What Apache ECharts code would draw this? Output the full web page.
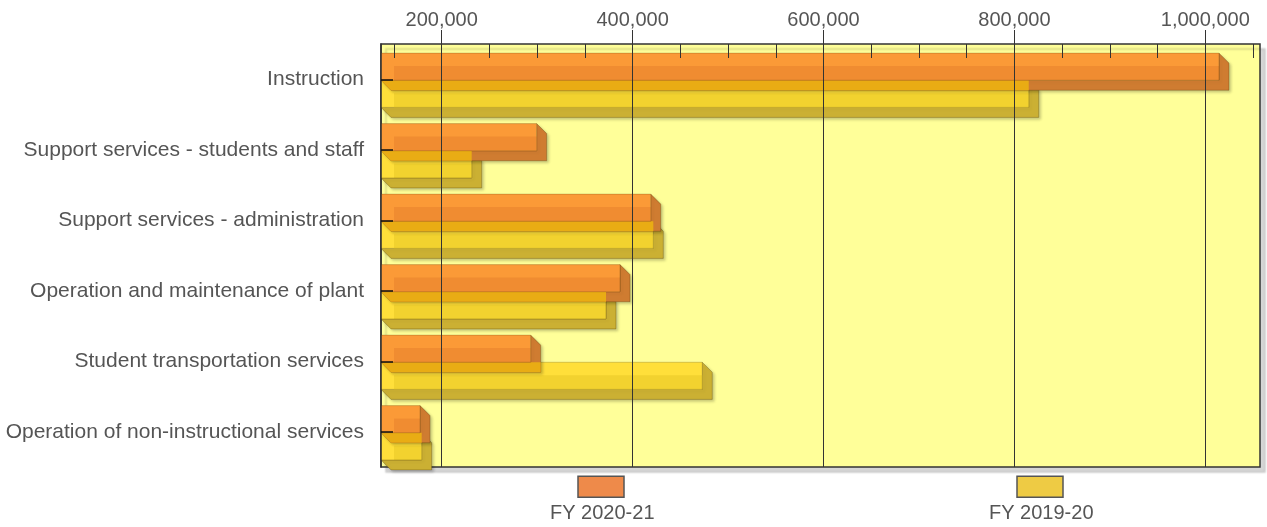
<!DOCTYPE html>
<html>
<head>
<meta charset="utf-8">
<script src="https://cdn.jsdelivr.net/npm/echarts@6/dist/echarts.min.js"></script>
<style>
html,body{margin:0;padding:0;background:#fff;}
#chart{width:1267px;height:527px;}
</style>
</head>
<body>
<div id="chart"></div>
<script>
// ---- data ----
const categories = [
  'Instruction',
  'Support services - students and staff',
  'Support services - administration',
  'Operation and maintenance of plant',
  'Student transportation services',
  'Operation of non-instructional services'
];
const seriesNames = ['FY 2020-21', 'FY 2019-20'];
const fy2021 = [1014300, 299500, 419000, 386800, 293200, 177300];
const fy1920 = [815000, 231400, 421700, 372100, 473000, 179000];
const majorTicks = [200000, 400000, 600000, 800000, 1000000];
const minorTicks = [150000, 250000, 300000, 350000, 450000, 500000, 550000, 650000,
  700000, 750000, 850000, 900000, 950000, 1050000];
const axisMin = 136400;
const axisMax = 1057300;

// ---- styling ----
const FONT = 'Liberation Sans, Arial, sans-serif';
const TXT = '#555555';
const palette = {
  orange: { front: '#FB9A37', overlay: '#F08C31', side: '#CF7C31', overYellow: '#E9AC14', legend: '#EE8A4A' },
  yellow: { front: '#FFDF3A', overlay: '#F2D22F', side: '#CBB033', legend: '#EECB44' }
};
const DEPTH = 10, OVER = 13;

function clipX(poly, X) {
  const out = [];
  for (let k = 0; k < poly.length; k++) {
    const a = poly[k], b = poly[(k + 1) % poly.length];
    const ia = a[0] <= X, ib = b[0] <= X;
    if (ia) out.push(a);
    if (ia !== ib) { const t = (X - a[0]) / (b[0] - a[0]); out.push([X, a[1] + t * (b[1] - a[1])]); }
  }
  return out;
}
function clipY(poly, Y) {
  const out = [];
  for (let k = 0; k < poly.length; k++) {
    const a = poly[k], b = poly[(k + 1) % poly.length];
    const ia = a[1] >= Y, ib = b[1] >= Y;
    if (ia) out.push(a);
    if (ia !== ib) { const t = (Y - a[1]) / (b[1] - a[1]); out.push([a[0] + t * (b[0] - a[0]), Y]); }
  }
  return out;
}

function makeRender(which) {
  const col = palette[which];
  return function (params, api) {
    const cat = api.value(0);
    const v = api.value(1);
    const base = api.coord([axisMin, cat]);
    const end = api.coord([v, cat]);
    const band = api.size([0, 1])[1];
    const h = band * 0.385;
    const split = base[1] + 1;
    const xL = base[0], xR = end[0];
    const yT = which === 'orange' ? split - h : split;
    const yB = yT + h;
    const d = DEPTH;
    const hex = [[xL, yB], [xR, yB], [xR, yT], [xR + d, yT + d], [xR + d, yB + d], [xL + d, yB + d]];
    const children = [];
    children.push({
      type: 'polygon', shape: { points: hex },
      style: { fill: col.side, stroke: 'rgba(60,40,0,0.25)', lineWidth: 1,
        shadowColor: 'rgba(0,0,0,0.22)', shadowBlur: 3, shadowOffsetX: 2, shadowOffsetY: 2 }
    });
    if (which === 'orange') {
      const xRy = api.coord([api.value(2), cat])[0];
      const g = clipY(clipX(hex, xRy), yB);
      if (g.length > 2) {
        children.push({ type: 'polygon', shape: { points: g }, style: { fill: col.overYellow } });
      }
    }
    children.push({
      type: 'rect', shape: { x: xL, y: yT, width: xR - xL, height: h },
      style: { fill: col.front }
    });
    if (xR - xL > OVER) {
      children.push({
        type: 'rect', shape: { x: xL + OVER, y: yT + OVER, width: xR - xL - OVER, height: h - OVER },
        style: { fill: col.overlay }
      });
    }
    children.push({
      type: 'rect', shape: { x: xL, y: yT, width: xR - xL, height: h },
      style: { fill: 'none', stroke: 'rgba(60,40,0,0.22)', lineWidth: 1 }
    });
    return { type: 'group', children: children };
  };
}

const orangeData = categories.map((c, i) => [i, fy2021[i], fy1920[i]]);
const yellowData = categories.map((c, i) => [i, fy1920[i]]);

const legendText = {
  color: TXT, fontSize: 20, fontFamily: FONT,
  lineHeight: 26.5,
  padding: [0, 0, 0, -79]
};
const legendFormatter = name => '\n\n' + name;

const option = {
  animation: false,
  backgroundColor: '#ffffff',
  grid: {
    left: 381, top: 44, width: 879, height: 423,
    show: true, backgroundColor: '#FFFF99',
    borderColor: '#333', borderWidth: 1.5,
    shadowColor: 'rgba(0,0,0,0.16)', shadowOffsetX: 5, shadowOffsetY: 5, shadowBlur: 2
  },
  legend: [
    {
      data: [{ name: seriesNames[0], icon: 'rect',
        itemStyle: { color: palette.orange.legend, borderColor: '#555', borderWidth: 1.5 } }],
      left: 550, top: 447, padding: 0, itemWidth: 46, itemHeight: 21,
      formatter: legendFormatter,
      textStyle: legendText
    },
    {
      data: [{ name: seriesNames[1], icon: 'rect',
        itemStyle: { color: palette.yellow.legend, borderColor: '#555', borderWidth: 1.5 } }],
      left: 989, top: 447, padding: 0, itemWidth: 46, itemHeight: 21,
      formatter: legendFormatter,
      textStyle: legendText
    }
  ],
  xAxis: [
    {
      type: 'value', position: 'top', min: axisMin, max: axisMax, z: 5,
      axisLine: { show: false },
      axisTick: { show: true, inside: false, length: 14, customValues: majorTicks,
        lineStyle: { color: '#333', width: 1 } },
      axisLabel: { show: true, customValues: majorTicks, margin: 14, color: TXT,
        fontSize: 20, fontFamily: FONT,
        formatter: v => Number(v).toLocaleString('en-US') },
      splitLine: { show: true, lineStyle: { color: '#333', width: 1 } }
    },
    {
      type: 'value', position: 'top', min: axisMin, max: axisMax, z: 5,
      axisLine: { show: false },
      axisTick: { show: true, inside: true, length: 14, customValues: minorTicks,
        lineStyle: { color: '#333', width: 1 } },
      axisLabel: { show: false },
      splitLine: { show: false }
    }
  ],
  yAxis: {
    type: 'category', data: categories, inverse: true, z: 5,
    axisLine: { show: true, lineStyle: { color: '#333', width: 1.5 } },
    axisTick: { show: true, inside: true, alignWithLabel: true, length: 12,
      lineStyle: { color: '#111', width: 1.5 } },
    axisLabel: { margin: 17, color: TXT, fontSize: 21, fontFamily: FONT },
    splitLine: { show: false }
  },
  series: [
    {
      name: seriesNames[0], type: 'custom', z: 3,
      itemStyle: { color: palette.orange.legend },
      renderItem: makeRender('orange'),
      encode: { x: 1, y: 0 },
      data: orangeData
    },
    {
      name: seriesNames[1], type: 'custom', z: 2,
      itemStyle: { color: palette.yellow.legend },
      renderItem: makeRender('yellow'),
      encode: { x: 1, y: 0 },
      data: yellowData
    }
  ]
};

const chart = echarts.init(document.getElementById('chart'), null, { renderer: 'canvas' });
chart.setOption(option);
</script>
</body>
</html>
